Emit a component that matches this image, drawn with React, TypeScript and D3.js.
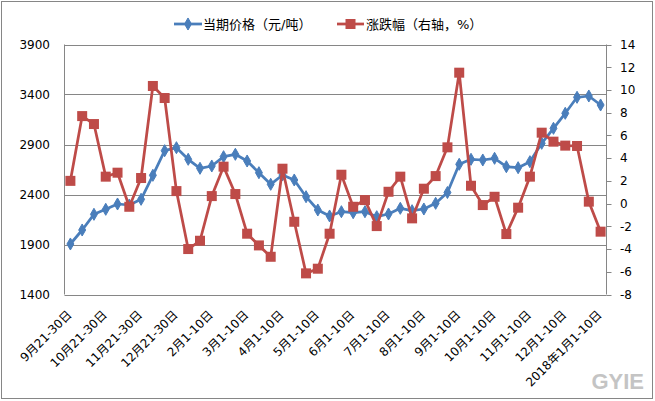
import React, { useEffect, useRef } from "react";
import * as d3 from "d3";

const categories: string[] = [
  "9月21-30日", "10月1-10日", "10月11-20日", "10月21-30日", "11月1-10日", "11月11-20日",
  "11月21-30日", "12月1-10日", "12月11-20日", "12月21-30日", "1月1-10日", "1月11-20日",
  "2月1-10日", "2月11-20日", "2月21-28日", "3月1-10日", "3月11-20日", "3月21-31日",
  "4月1-10日", "4月11-20日", "4月21-30日", "5月1-10日", "5月11-20日", "5月21-31日",
  "6月1-10日", "6月11-20日", "6月21-30日", "7月1-10日", "7月11-20日", "7月21-31日",
  "8月1-10日", "8月11-20日", "8月21-31日", "9月1-10日", "9月11-20日", "9月21-30日 ",
  "10月1-10日 ", "10月11-20日 ", "10月21-31日", "11月1-10日 ", "11月11-20日 ", "11月21-30日 ",
  "12月1-10日 ", "12月11-20日 ", "12月21-31日", "2018年1月1-10日",
];

const priceValues: number[] = [
  1905, 2045, 2202, 2252, 2305, 2295, 2352, 2592, 2838, 2868, 2752, 2662,
  2685, 2778, 2802, 2735, 2618, 2502, 2595, 2545, 2378, 2245, 2185, 2228,
  2218, 2228, 2178, 2205, 2262, 2238, 2255, 2312, 2420, 2702, 2752, 2745,
  2762, 2678, 2668, 2728, 2912, 3062, 3212, 3372, 3385, 3295,
];

const changeValues: number[] = [
  2.0, 7.7, 7.0, 2.37, 2.72, -0.28, 2.25, 10.35, 9.29, 1.1, -4.0, -3.27,
  0.66, 3.25, 0.84, -2.65, -3.68, -4.68, 3.07, -1.6, -6.14, -5.73, -2.65, 2.54,
  -0.28, 0.31, -1.98, 1.04, 2.37, -1.3, 1.31, 2.42, 4.95, 11.52, 1.57, -0.13,
  0.6, -2.68, -0.36, 2.37, 6.24, 5.45, 5.1, 5.07, 0.17, -2.47,
];

const leftTicks: number[] = [1400, 1900, 2400, 2900, 3400, 3900];
const rightTicks: number[] = [14, 12, 10, 8, 6, 4, 2, 0, -2, -4, -6, -8];
const legendLabels: string[] = ["当期价格（元/吨）", "涨跌幅（右轴，%）"];

const W = 655;
const H = 401;
const BLUE = "#4A7EBB";
const RED = "#BE4B48";
const GRID = "#868686";
const FONT = '"DejaVu Sans", "Noto Sans CJK SC", sans-serif';

export default function App() {
  const ref = useRef<SVGSVGElement | null>(null);

  useEffect(() => {
    const svg = d3.select(ref.current);
    svg.selectAll("*").remove();

    const left = 64.5, right = 606.5, top = 44.5, bottom = 294.5;

    const x = d3.scaleBand<number>()
      .domain(categories.map((_, i) => i))
      .range([left, right])
      .padding(0);
    const cx = (i: number) => (x(i) as number) + x.bandwidth() / 2;
    const yL = d3.scaleLinear().domain([1400, 3900]).range([bottom, top]);
    const yR = d3.scaleLinear().domain([-8, 14]).range([bottom, top]);

    // outer border
    svg.append("rect")
      .attr("x", 1.5).attr("y", 1.5)
      .attr("width", W - 4).attr("height", H - 4)
      .attr("fill", "#fff").attr("stroke", GRID).attr("stroke-width", 1);

    // gridlines
    svg.append("g").selectAll("line")
      .data(leftTicks)
      .join("line")
      .attr("x1", left).attr("x2", right)
      .attr("y1", (d) => Math.round(yL(d)) + 0.5)
      .attr("y2", (d) => Math.round(yL(d)) + 0.5)
      .attr("stroke", GRID).attr("stroke-width", 1);

    // left axis line
    svg.append("line")
      .attr("x1", left).attr("x2", left).attr("y1", top).attr("y2", bottom)
      .attr("stroke", GRID);
    // right axis line with ticks
    svg.append("line")
      .attr("x1", right).attr("x2", right).attr("y1", top).attr("y2", bottom)
      .attr("stroke", GRID);
    svg.append("g").selectAll("line")
      .data(rightTicks)
      .join("line")
      .attr("x1", right).attr("x2", right + 5)
      .attr("y1", (d) => Math.round(yR(d)) + 0.5)
      .attr("y2", (d) => Math.round(yR(d)) + 0.5)
      .attr("stroke", GRID);

    // left tick labels
    svg.append("g").selectAll("text")
      .data(leftTicks)
      .join("text")
      .attr("x", 50).attr("y", (d) => yL(d))
      .attr("dy", "0.36em")
      .attr("text-anchor", "end")
      .attr("font-family", FONT).attr("font-size", 12).attr("fill", "#000")
      .text((d) => String(d));

    // right tick labels
    svg.append("g").selectAll("text")
      .data(rightTicks)
      .join("text")
      .attr("x", 620).attr("y", (d) => yR(d))
      .attr("dy", "0.36em")
      .attr("text-anchor", "start")
      .attr("font-family", FONT).attr("font-size", 12).attr("fill", "#000")
      .text((d) => String(d));

    // x labels, every 3rd category
    const labelIdx = categories.map((_, i) => i).filter((i) => i % 3 === 0);
    svg.append("g").selectAll("text")
      .data(labelIdx)
      .join("text")
      .attr("transform", (i) => `translate(${cx(i) + 2},${bottom + 21}) rotate(-45)`)
      .attr("text-anchor", "end")
      .attr("font-family", FONT).attr("font-size", 12).attr("fill", "#000")
      .text((i) => categories[i].trim());

    // price line
    const lineL = d3.line<number>().x((_, i) => cx(i)).y((d) => yL(d));
    svg.append("path")
      .datum(priceValues)
      .attr("d", lineL)
      .attr("fill", "none").attr("stroke", BLUE).attr("stroke-width", 2.75)
      .attr("stroke-linejoin", "round");
    const diamond = d3.symbol().type(d3.symbolDiamond).size(42);
    svg.append("g").selectAll("path")
      .data(priceValues)
      .join("path")
      .attr("transform", (d, i) => `translate(${cx(i)},${yL(d)})`)
      .attr("d", diamond)
      .attr("fill", BLUE).attr("stroke", BLUE).attr("stroke-width", 1);

    // change line
    const lineR = d3.line<number>().x((_, i) => cx(i)).y((d) => yR(d));
    svg.append("path")
      .datum(changeValues)
      .attr("d", lineR)
      .attr("fill", "none").attr("stroke", RED).attr("stroke-width", 2.75)
      .attr("stroke-linejoin", "round");
    svg.append("g").selectAll("rect")
      .data(changeValues)
      .join("rect")
      .attr("x", (d, i) => cx(i) - 5).attr("y", (d) => yR(d) - 5)
      .attr("width", 10).attr("height", 10)
      .attr("fill", RED);

    // legend
    const lg = svg.append("g");
    lg.append("line").attr("x1", 174).attr("x2", 202).attr("y1", 24).attr("y2", 24)
      .attr("stroke", BLUE).attr("stroke-width", 2.75);
    lg.append("path").attr("transform", "translate(188,24)").attr("d", diamond)
      .attr("fill", BLUE).attr("stroke", BLUE);
    lg.append("text").attr("x", 203).attr("y", 24).attr("dy", "0.36em")
      .attr("font-family", FONT).attr("font-size", 13).attr("fill", "#000")
      .text(legendLabels[0]);
    lg.append("line").attr("x1", 337).attr("x2", 364).attr("y1", 24).attr("y2", 24)
      .attr("stroke", RED).attr("stroke-width", 2.75);
    lg.append("rect").attr("x", 345.5).attr("y", 19).attr("width", 10).attr("height", 10)
      .attr("fill", RED);
    lg.append("text").attr("x", 366).attr("y", 24).attr("dy", "0.36em")
      .attr("font-family", FONT).attr("font-size", 13).attr("fill", "#000")
      .text(legendLabels[1]);

    // watermark
    svg.append("text")
      .attr("x", 644).attr("y", 389)
      .attr("text-anchor", "end")
      .attr("font-family", '"Liberation Sans", Arial, sans-serif')
      .attr("font-weight", "bold").attr("font-size", 22)
      .attr("fill", "#c4c4c4")
      .text("GYIE");
  }, []);

  return (
    <svg
      ref={ref}
      width={W}
      height={H}
      style={{ position: "absolute", left: 0, top: 0, background: "#fff" }}
    />
  );
}
